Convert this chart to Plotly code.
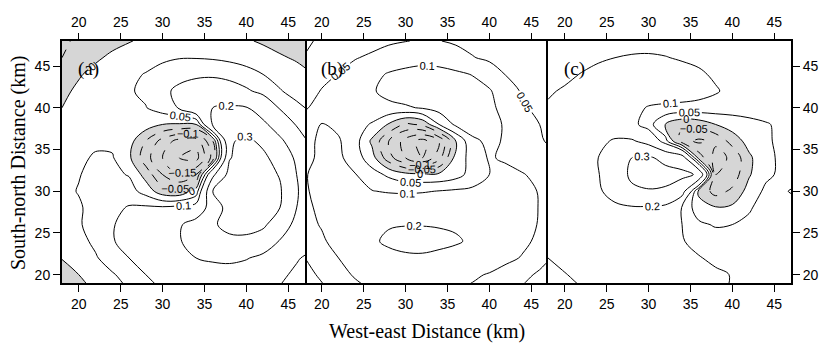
import plotly.graph_objects as go

# Grid nodes (km). Table rows run north -> south (y = 48 ... 18), columns west -> east.
x_km = [18, 20, 22, 24, 26, 28, 30, 32, 34, 36, 38, 40, 42, 44, 46, 48]
y_km = [48, 46, 44, 42, 40, 38, 36, 34, 32, 30, 28, 26, 24, 22, 20, 18]

panel_a = [
    [-0.06, -0.04, -0.03, -0.015, -0.003, 0.01, 0.02, 0.025, 0.025, 0.02, 0.012, 0.004, -0.005, -0.015, -0.03, -0.04],
    [-0.05, -0.03, -0.008, 0.01, 0.025, 0.035, 0.043, 0.048, 0.048, 0.045, 0.038, 0.028, 0.016, 0.005, -0.005, -0.015],
    [-0.03, -0.005, 0.015, 0.03, 0.042, 0.052, 0.065, 0.08, 0.09, 0.092, 0.085, 0.07, 0.05, 0.035, 0.015, 0.0],
    [-0.012, 0.01, 0.025, 0.035, 0.045, 0.06, 0.085, 0.115, 0.13, 0.135, 0.125, 0.108, 0.085, 0.053, 0.035, 0.02],
    [0.0, 0.018, 0.03, 0.038, 0.043, 0.048, 0.075, 0.105, 0.16, 0.2, 0.21, 0.205, 0.15, 0.095, 0.06, 0.04],
    [0.012, 0.025, 0.032, 0.035, 0.035, 0.025, 0.0, -0.005, 0.0, 0.21, 0.26, 0.26, 0.22, 0.15, 0.095, 0.07],
    [0.03, 0.04, 0.045, 0.04, 0.02, -0.05, -0.12, -0.17, -0.18, -0.05, 0.29, 0.32, 0.28, 0.22, 0.14, 0.08],
    [0.04, 0.045, 0.053, 0.054, 0.01, -0.08, -0.15, -0.2, -0.22, -0.08, 0.295, 0.34, 0.32, 0.26, 0.185, 0.15],
    [0.035, 0.048, 0.062, 0.06, 0.047, -0.02, -0.1, -0.15, -0.1, 0.18, 0.33, 0.35, 0.33, 0.295, 0.2, 0.15],
    [0.04, 0.052, 0.065, 0.075, 0.07, 0.03, -0.03, -0.04, 0.02, 0.3, 0.34, 0.35, 0.34, 0.31, 0.205, 0.16],
    [0.03, 0.045, 0.065, 0.085, 0.105, 0.11, 0.11, 0.12, 0.13, 0.25, 0.335, 0.345, 0.34, 0.3, 0.2, 0.15],
    [0.025, 0.045, 0.07, 0.095, 0.125, 0.145, 0.165, 0.19, 0.24, 0.29, 0.325, 0.33, 0.315, 0.25, 0.175, 0.13],
    [0.012, 0.035, 0.06, 0.095, 0.125, 0.15, 0.17, 0.195, 0.23, 0.26, 0.28, 0.28, 0.255, 0.195, 0.15, 0.12],
    [0.002, 0.02, 0.045, 0.075, 0.1, 0.13, 0.155, 0.18, 0.2, 0.21, 0.215, 0.205, 0.18, 0.145, 0.105, 0.085],
    [-0.02, 0.0, 0.025, 0.045, 0.07, 0.1, 0.125, 0.145, 0.16, 0.17, 0.17, 0.16, 0.14, 0.11, 0.09, 0.075],
    [-0.04, -0.02, 0.005, 0.028, 0.05, 0.075, 0.1, 0.12, 0.135, 0.14, 0.14, 0.13, 0.115, 0.095, 0.075, 0.06],
]

panel_b = [
    [-0.01, 0.01, 0.022, 0.03, 0.038, 0.045, 0.049, 0.053, 0.051, 0.045, 0.038, 0.03, 0.022, 0.015, 0.01, 0.005],
    [0.003, 0.025, 0.04, 0.048, 0.056, 0.065, 0.075, 0.082, 0.078, 0.065, 0.052, 0.042, 0.033, 0.024, 0.017, 0.012],
    [0.025, 0.04, 0.051, 0.065, 0.085, 0.105, 0.115, 0.12, 0.118, 0.11, 0.098, 0.075, 0.048, 0.035, 0.025, 0.018],
    [0.035, 0.052, 0.065, 0.08, 0.095, 0.115, 0.13, 0.135, 0.135, 0.13, 0.12, 0.105, 0.07, 0.045, 0.035, 0.028],
    [0.046, 0.065, 0.075, 0.08, 0.085, 0.088, 0.093, 0.105, 0.12, 0.125, 0.12, 0.11, 0.085, 0.055, 0.04, 0.035],
    [0.07, 0.103, 0.09, 0.07, 0.045, -0.005, -0.06, -0.04, 0.05, 0.11, 0.125, 0.12, 0.093, 0.065, 0.05, 0.045],
    [0.085, 0.11, 0.105, 0.07, -0.01, -0.1, -0.17, -0.22, -0.15, 0.0, 0.09, 0.11, 0.095, 0.07, 0.052, 0.045],
    [0.09, 0.108, 0.11, 0.075, 0.02, -0.08, -0.15, -0.2, -0.12, 0.02, 0.07, 0.105, 0.092, 0.075, 0.06, 0.055],
    [0.098, 0.11, 0.113, 0.102, 0.07, 0.04, 0.015, 0.01, 0.01, 0.03, 0.07, 0.1, 0.115, 0.103, 0.085, 0.075],
    [0.095, 0.115, 0.12, 0.115, 0.102, 0.095, 0.092, 0.095, 0.102, 0.108, 0.11, 0.118, 0.122, 0.115, 0.097, 0.085],
    [0.09, 0.11, 0.125, 0.135, 0.14, 0.145, 0.148, 0.15, 0.148, 0.145, 0.14, 0.135, 0.13, 0.118, 0.098, 0.085],
    [0.08, 0.105, 0.13, 0.155, 0.18, 0.195, 0.198, 0.198, 0.196, 0.192, 0.18, 0.16, 0.14, 0.12, 0.096, 0.082],
    [0.06, 0.09, 0.125, 0.16, 0.19, 0.212, 0.22, 0.22, 0.215, 0.207, 0.19, 0.165, 0.14, 0.112, 0.088, 0.072],
    [0.05, 0.07, 0.1, 0.13, 0.16, 0.18, 0.19, 0.192, 0.185, 0.175, 0.16, 0.14, 0.115, 0.095, 0.062, 0.045],
    [0.035, 0.058, 0.085, 0.105, 0.125, 0.14, 0.148, 0.148, 0.14, 0.125, 0.11, 0.095, 0.075, 0.058, 0.045, 0.035],
    [0.02, 0.04, 0.065, 0.085, 0.1, 0.115, 0.12, 0.12, 0.115, 0.1, 0.088, 0.075, 0.058, 0.045, 0.032, 0.025],
]

panel_c = [
    [0.055, 0.06, 0.065, 0.07, 0.075, 0.08, 0.082, 0.082, 0.08, 0.075, 0.07, 0.065, 0.062, 0.06, 0.058, 0.056],
    [0.065, 0.075, 0.085, 0.095, 0.1, 0.105, 0.106, 0.102, 0.095, 0.088, 0.08, 0.075, 0.07, 0.065, 0.062, 0.06],
    [0.08, 0.09, 0.102, 0.11, 0.118, 0.122, 0.124, 0.122, 0.118, 0.108, 0.092, 0.08, 0.073, 0.068, 0.065, 0.063],
    [0.095, 0.105, 0.115, 0.125, 0.135, 0.14, 0.14, 0.135, 0.13, 0.12, 0.105, 0.085, 0.075, 0.07, 0.066, 0.064],
    [0.105, 0.115, 0.125, 0.135, 0.14, 0.12, 0.095, 0.088, 0.085, 0.082, 0.078, 0.07, 0.065, 0.062, 0.06, 0.06],
    [0.11, 0.125, 0.14, 0.15, 0.145, 0.12, 0.07, 0.0, -0.04, -0.03, 0.0, 0.025, 0.04, 0.048, 0.055, 0.058],
    [0.115, 0.13, 0.15, 0.18, 0.21, 0.21, 0.17, 0.07, -0.08, -0.11, -0.09, -0.03, 0.02, 0.045, 0.058, 0.062],
    [0.12, 0.14, 0.165, 0.2, 0.25, 0.3, 0.31, 0.28, 0.25, -0.02, -0.12, -0.09, -0.01, 0.04, 0.058, 0.065],
    [0.12, 0.145, 0.165, 0.195, 0.27, 0.31, 0.33, 0.325, 0.32, 0.29, -0.1, -0.08, -0.005, 0.04, 0.06, 0.075],
    [0.115, 0.14, 0.17, 0.19, 0.23, 0.29, 0.295, 0.29, 0.24, -0.01, -0.07, -0.04, 0.02, 0.06, 0.095, 0.11],
    [0.105, 0.13, 0.155, 0.175, 0.185, 0.19, 0.19, 0.18, 0.095, 0.02, 0.005, 0.01, 0.045, 0.07, 0.075, 0.08],
    [0.1, 0.12, 0.14, 0.155, 0.16, 0.16, 0.155, 0.135, 0.1, 0.06, 0.045, 0.05, 0.06, 0.065, 0.07, 0.072],
    [0.105, 0.12, 0.13, 0.145, 0.15, 0.148, 0.14, 0.125, 0.103, 0.085, 0.075, 0.07, 0.068, 0.066, 0.065, 0.065],
    [0.1, 0.112, 0.125, 0.135, 0.14, 0.14, 0.135, 0.125, 0.115, 0.103, 0.09, 0.08, 0.075, 0.07, 0.068, 0.066],
    [0.085, 0.098, 0.11, 0.12, 0.125, 0.128, 0.128, 0.125, 0.12, 0.115, 0.108, 0.098, 0.088, 0.08, 0.075, 0.072],
    [0.07, 0.085, 0.097, 0.107, 0.113, 0.117, 0.118, 0.117, 0.115, 0.112, 0.106, 0.097, 0.088, 0.08, 0.075, 0.07],
]

solid_levels = [0, 0.05, 0.1, 0.2, 0.3]
dashed_levels = [-0.05, -0.1, -0.15, -0.2]
x_ticks = [20, 25, 30, 35, 40, 45]
y_ticks = [20, 25, 30, 35, 40, 45]
panel_tags = ["(a)", "(b)", "(c)"]

SANS = "Liberation Sans, Arial, sans-serif"
SERIF = "Liberation Serif, Times New Roman, serif"
BLACK_SCALE = [[0, "#000000"], [1, "#000000"]]

y_up = y_km[::-1]
panels = [panel_a, panel_b, panel_c]
# shading of negative values: whole grid for (a), interior nodes only for (b) and (c)
shade_slices = [slice(None), slice(1, -1), slice(1, -1)]

fig = go.Figure()
for i, rows in enumerate(panels):
    xa = "x" if i == 0 else f"x{i + 1}"
    ya = "y" if i == 0 else f"y{i + 1}"
    z_up = rows[::-1]
    s = shade_slices[i]
    # constraint contours shade the region that fails the test, i.e. z < 0 here
    fig.add_trace(go.Contour(
        x=x_km[s], y=y_up[s], z=[r[s] for r in z_up[s]],
        contours=dict(type="constraint", operation=">", value=0),
        fillcolor="rgb(214,214,214)", line=dict(width=0, smoothing=1),
        showscale=False, hoverinfo="skip", xaxis=xa, yaxis=ya,
    ))
    for lv in dashed_levels + solid_levels:
        fig.add_trace(go.Contour(
            x=x_km, y=y_up, z=z_up, autocontour=False,
            zmin=-1, zmax=1,
            contours=dict(start=lv, end=lv, size=1, coloring="lines",
                          showlabels=True, labelformat=".2~f",
                          labelfont=dict(family=SANS, size=11, color="#000000")),
            colorscale=BLACK_SCALE,
            line=dict(width=1, smoothing=1, dash="dash" if lv < 0 else "solid"),
            showscale=False, hoverinfo="skip", xaxis=xa, yaxis=ya,
        ))

# empty traces that carry the top tick axes
for k in range(3):
    fig.add_trace(go.Scatter(x=[], y=[], xaxis=f"x{k + 4}",
                             yaxis="y" if k == 0 else f"y{k + 1}",
                             showlegend=False, hoverinfo="skip"))

tickstyle = dict(ticks="outside", ticklen=7, tickwidth=1, tickcolor="black",
                 tickfont=dict(family=SANS, size=14, color="black"))

layout = dict(
    width=831, height=345,
    margin=dict(l=62, r=40, t=41, b=62),
    paper_bgcolor="white", plot_bgcolor="white",
    showlegend=False,
)
doms = [[0, 1 / 3], [1 / 3, 2 / 3], [2 / 3, 1]]
for k in range(3):
    sx = "" if k == 0 else str(k + 1)
    layout[f"xaxis{sx}"] = dict(domain=doms[k], range=[18, 47], anchor=f"y{sx}",
                                tickvals=x_ticks, showline=True, linewidth=2,
                                linecolor="black", mirror=True, showgrid=False,
                                zeroline=False, **tickstyle)
    layout[f"xaxis{k + 4}"] = dict(range=[18, 47], overlaying=f"x{sx}", side="top",
                                   anchor=f"y{sx}", tickvals=x_ticks, showline=False,
                                   showgrid=False, zeroline=False, **tickstyle)
    yax = dict(domain=[0, 1], range=[19, 48], anchor=f"x{sx}", tickvals=y_ticks,
               showgrid=False, zeroline=False, linecolor="black", linewidth=2)
    if k == 0:
        yax.update(side="left", showline=True, mirror=True, **tickstyle)
    elif k == 2:
        yax.update(side="right", showline=True, mirror=True, **tickstyle)
    else:
        yax.update(showline=False, showticklabels=False, ticks="")
    layout[f"yaxis{sx}"] = yax

annotations = [
    dict(text="South-north Distance (km)", x=18, y=163, textangle=-90),
    dict(text="West-east Distance (km)", x=427, y=331),
]
# pixel anchors of the two axis titles -> paper coordinates
for a in annotations:
    a.update(x=(a["x"] - 62) / 729, y=(283 - a["y"]) / 242, xref="paper", yref="paper",
             xanchor="center", yanchor="middle", showarrow=False,
             font=dict(family=SERIF, size=20, color="black"))
for k, tag in enumerate(panel_tags):
    sx = "" if k == 0 else str(k + 1)
    annotations.append(dict(text=tag, x=21.2, y=44.6, xref=f"x{sx}", yref=f"y{sx}",
                            showarrow=False, font=dict(family=SERIF, size=19, color="black")))
layout["annotations"] = annotations

fig.update_layout(**layout)
fig.write_html("out.html")
